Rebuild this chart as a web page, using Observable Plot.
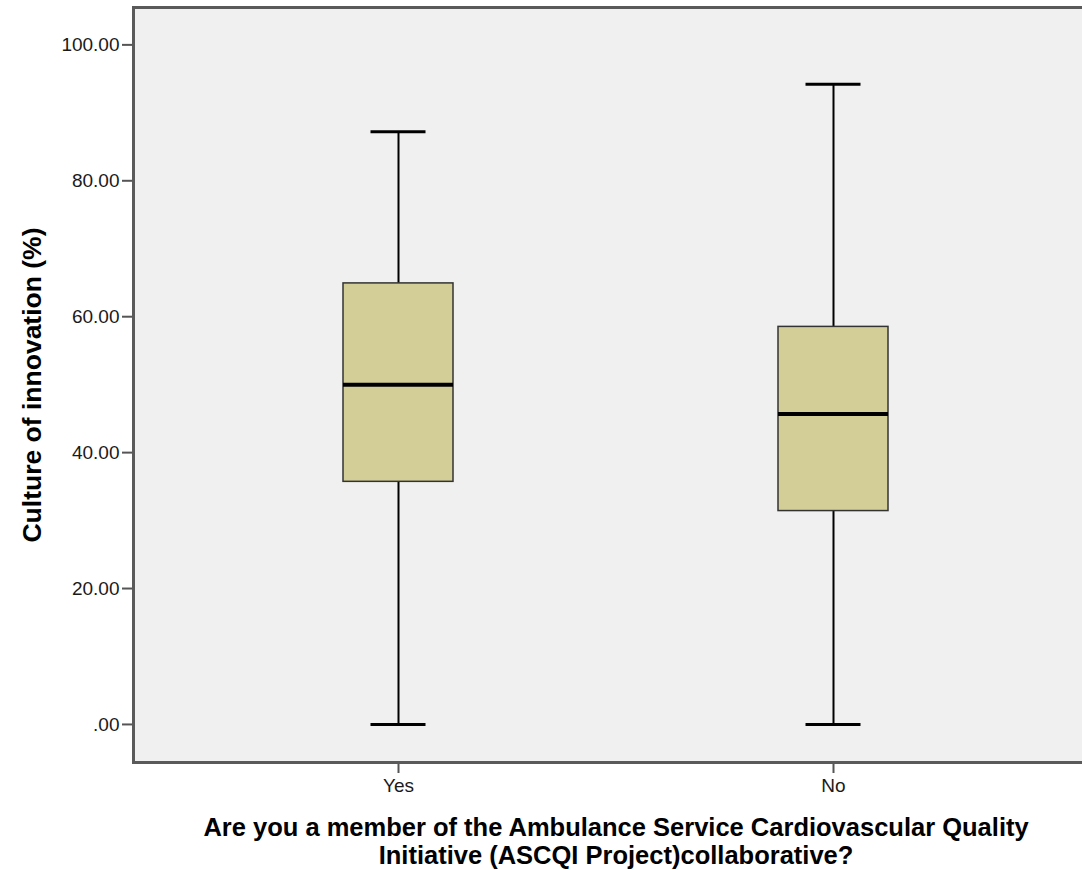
<!DOCTYPE html>
<html>
<head>
<meta charset="utf-8">
<script src="https://cdn.jsdelivr.net/npm/d3@7"></script>
<script src="https://cdn.jsdelivr.net/npm/@observablehq/plot@0.6"></script>
<style>
  html, body { margin: 0; padding: 0; background: #fff; overflow: hidden; }
  #chart svg { display: block; }
</style>
</head>
<body>
<div id="chart"></div>
<script>
const groups = ["Yes", "No"];
const mins = [0, 0];
const q1s = [35.7, 31.4];
const medians = [50.0, 45.7];
const q3s = [64.9, 58.5];
const maxs = [87.2, 94.2];
const yTicks = [0, 20, 40, 60, 80, 100];
const yTitle = "Culture of innovation (%)";
const xTitle = "Are you a member of the Ambulance Service Cardiovascular Quality\nInitiative (ASCQI Project)collaborative?";

const data = groups.map((g, i) => ({
  group: g, min: mins[i], q1: q1s[i], median: medians[i], q3: q3s[i], max: maxs[i]
}));

const chart = Plot.plot({
  width: 1082,
  height: 870,
  marginLeft: 133,
  marginRight: 0,
  marginTop: 7,
  marginBottom: 108,
  style: { fontFamily: "'Liberation Sans', Arial, sans-serif", background: "#fff", color: "#000" },
  x: { type: "band", domain: groups, range: [133, 1098], paddingInner: 0.747, paddingOuter: 0.4825, label: null },
  y: { domain: [-5.6, 105.5], label: null },
  marks: [
    Plot.frame({ fill: "#f0f0f0", insetRight: -4 }),
    Plot.ruleX(data, { x: "group", y1: "q3", y2: "max", stroke: "#000", strokeWidth: 2 }),
    Plot.ruleX(data, { x: "group", y1: "min", y2: "q1", stroke: "#000", strokeWidth: 2 }),
    Plot.barY(data, { x: "group", y1: "q1", y2: "q3", fill: "#d3ce97", stroke: "#333", strokeWidth: 1.5 }),
    Plot.tickY(data, { x: "group", y: "median", stroke: "#000", strokeWidth: 4 }),
    Plot.tickY(data, { x: "group", y: "max", stroke: "#000", strokeWidth: 3, insetLeft: 27.5, insetRight: 27.5 }),
    Plot.tickY(data, { x: "group", y: "min", stroke: "#000", strokeWidth: 3, insetLeft: 27.5, insetRight: 27.5 }),
    Plot.axisY({
      ticks: yTicks,
      tickFormat: d => d === 0 ? ".00" : d.toFixed(2),
      tickSize: 11, tickPadding: 3, fontSize: 19,
      stroke: "#555", strokeWidth: 2, fill: "#1a1a1a", label: null
    }),
    Plot.axisX({
      tickSize: 11, tickPadding: 5, fontSize: 19,
      stroke: "#555", strokeWidth: 2, fill: "#1a1a1a", label: null
    }),
    Plot.frame({ stroke: "#5a5a5a", strokeWidth: 3, insetRight: -4 }),
    Plot.text([yTitle], {
      text: d => d, frameAnchor: "left", textAnchor: "middle", rotate: -90, dx: -101,
      fontSize: 26.5, fontWeight: "bold", fill: "#000"
    }),
    Plot.text([xTitle], {
      text: d => d, frameAnchor: "bottom", lineAnchor: "top", dy: 53, dx: 8,
      lineHeight: 1.12, fontSize: 25.5, fontWeight: "bold", fill: "#000"
    })
  ]
});
document.getElementById("chart").append(chart);
</script>
</body>
</html>
